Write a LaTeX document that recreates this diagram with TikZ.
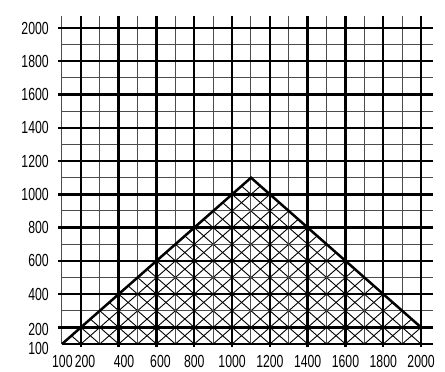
\documentclass[tikz,border=0pt]{standalone}
\usepackage{fontspec}
\setmainfont{Liberation Sans}[FakeStretch=0.7]
\begin{document}
\begin{tikzpicture}[x=0.189pt,y=0.1663pt,
 thickline/.style={line width=2.4pt,black},
 thinline/.style={line width=1pt,black!70},
 hatchline/.style={line width=0.9pt,black},
 edgeline/.style={line width=2.5pt,black,line join=miter},
 lab/.style={font=\fontsize{17.5}{17.5}\selectfont,inner sep=0pt}]
\useasboundingbox (-228,-62.4) rectangle (2126.5,2168.6);
% cross hatching under the triangle
\begin{scope}
\clip (100,100) -- (1100,1100) -- (2000,200) -- (2000,100) -- cycle;
\foreach \c in {-2200,-2100,...,2000} \draw[hatchline] (\c,0) -- ({\c+2200},2200);
\foreach \c in {0,100,...,4200} \draw[hatchline] (\c,0) -- ({\c-2200},2200);
\end{scope}
% grid
\foreach \v in {300,500,...,1900} \draw[thinline] (\v,100) -- (\v,2072);
\draw[thinline] (100,100) -- (100,2072);
\foreach \v in {300,500,...,1900} \draw[thinline] (100,\v) -- (2063,\v);
\foreach \v in {200,400,...,2000} \draw[thickline] (79,\v) -- (2063,\v);
\draw[thickline] (100,100) -- (2063,100);
\foreach \v in {200,400,...,2000} \draw[thickline] (\v,82) -- (\v,2072);
% triangle edges
\draw[edgeline] (100,100) -- (1100,1100) -- (2000,200);
% y labels
\foreach \v in {400,600,...,2000} \node[lab,anchor=east] (yl\v) at (31,\v) {\v};
\node[lab,anchor=east] (yl200) at (31,190) {200};
\node[lab,anchor=east] (yl100) at (31,76) {100};
% x labels
\node[lab] (xl100) at (102,-2) {100};
\node[lab] (xl200) at (222,-2) {200};
\node[lab] (xl400) at (428,-2) {400};
\node[lab] (xl600) at (621,-2) {600};
\foreach \v in {800,1000,...,2000} \node[lab] (xl\v) at (\v,-2) {\v};
\end{tikzpicture}
\end{document}
